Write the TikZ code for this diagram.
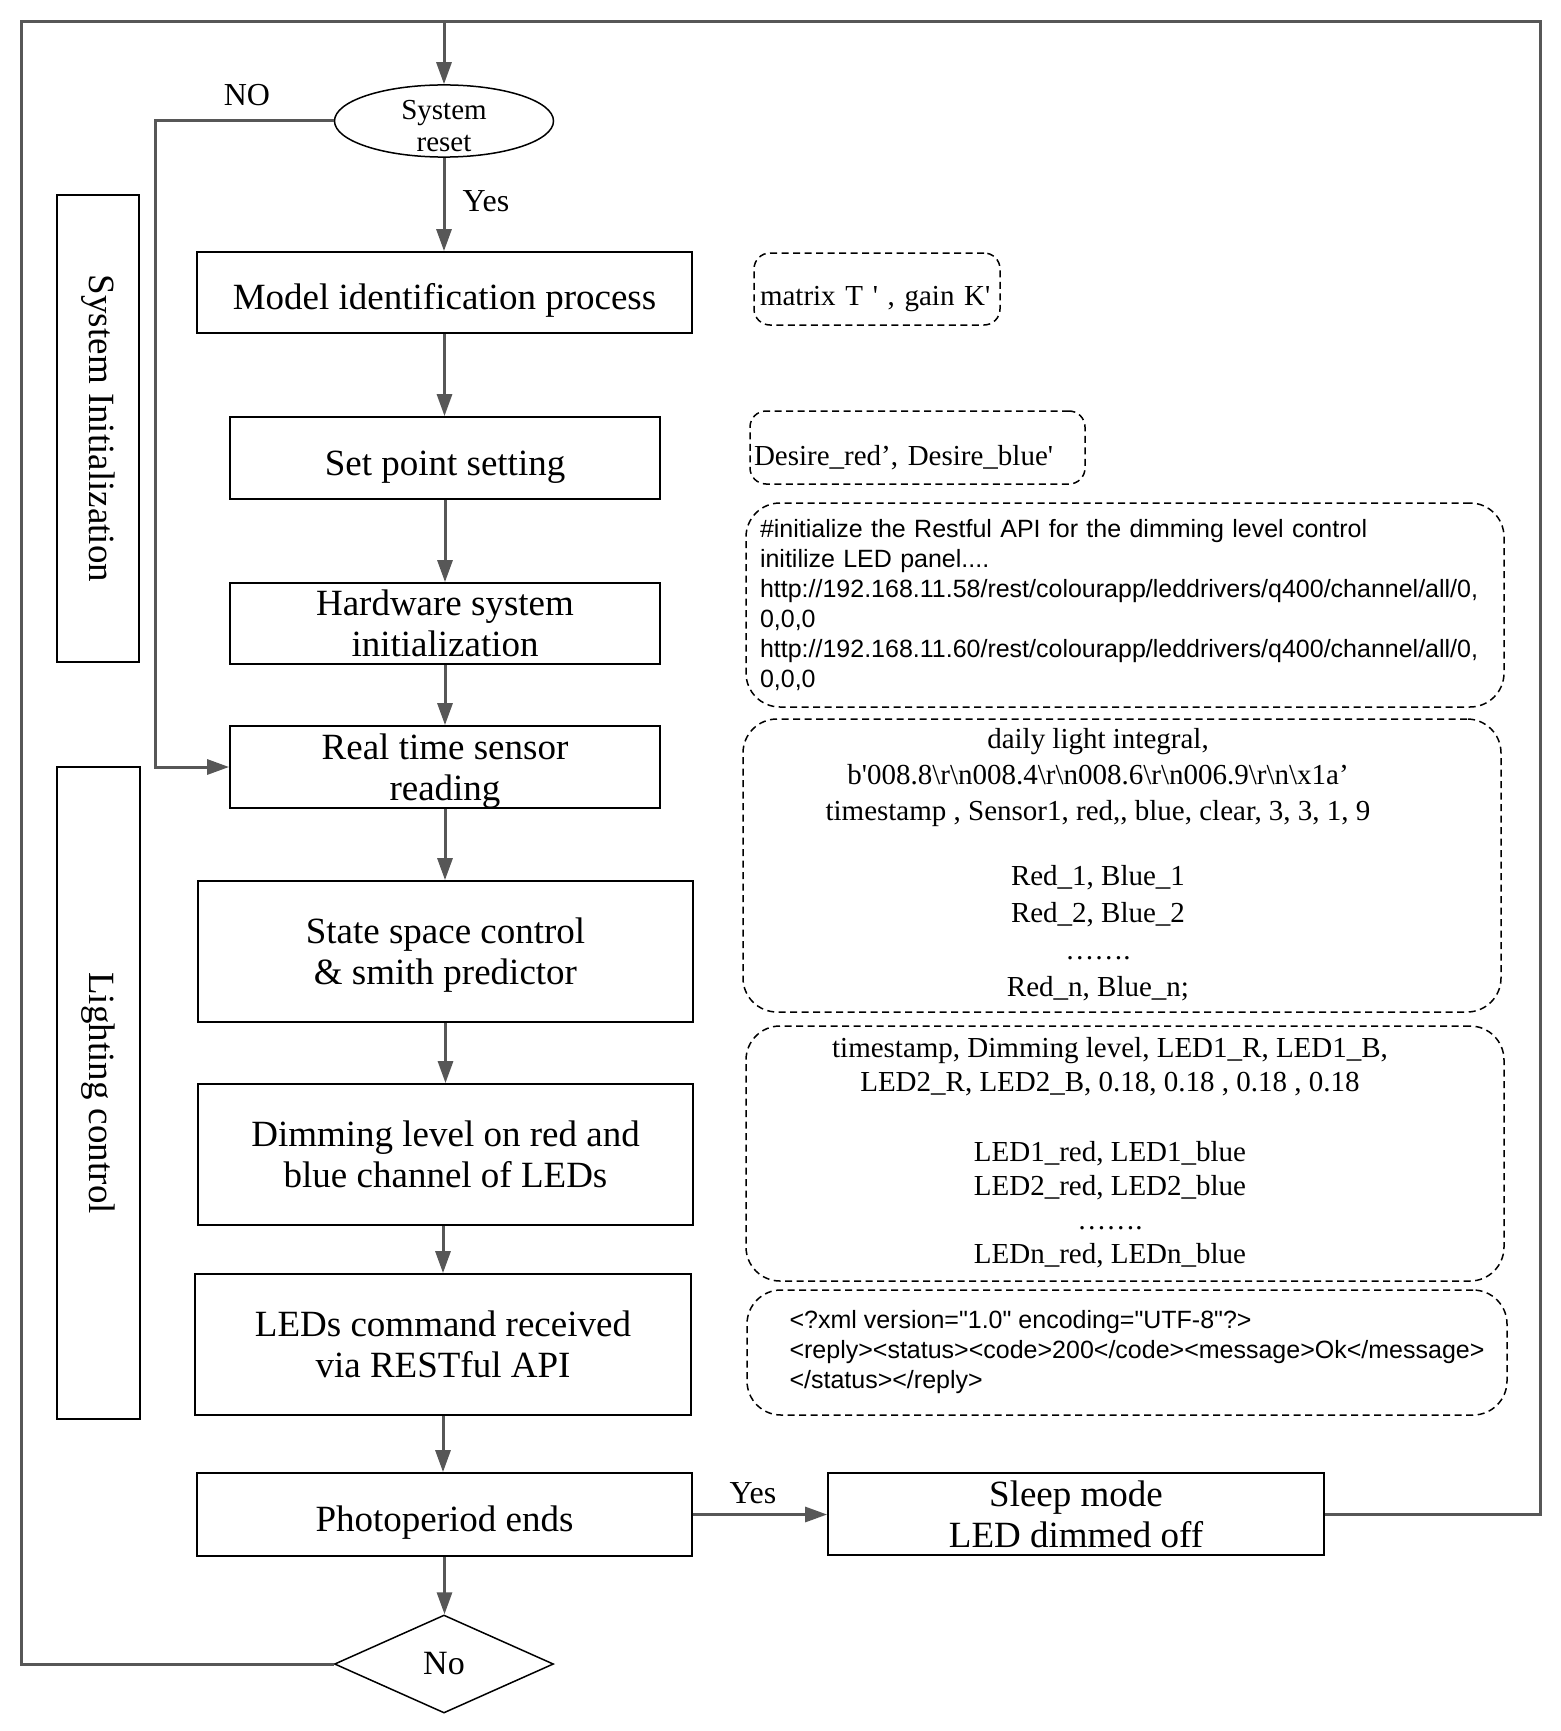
\documentclass[tikz,border=0pt]{standalone}
\usepackage{fontspec}
\newfontfamily\tms{Liberation Serif}
\newfontfamily\arl{Liberation Sans}
\usetikzlibrary{shapes.geometric,arrows.meta}
\definecolor{linegray}{HTML}{575757}
\begin{document}
\begin{tikzpicture}[x=1pt,y=-1pt,font=\tms,
  box/.style={draw=black,line width=1.8pt,rectangle,inner sep=0pt,align=center,text height=42pt,font=\tms\fontsize{37}{41}\selectfont},
  boxtwo/.style={box,text height=72pt,text depth=6pt},
  conn/.style={draw=linegray,line width=3pt},
  arr/.style={conn,-{Triangle[length=22pt,width=15pt]}},
  dbox/.style={draw=black,line width=1.5pt,dash pattern=on 7pt off 4.5pt,rounded corners=34pt,inner sep=0pt},
  dsmall/.style={dbox,rounded corners=16pt,text height=40pt},
  serif/.style={font=\tms\fontsize{29}{36}\selectfont},
  sans/.style={font=\arl\fontsize{25}{30}\selectfont},
  lbl/.style={font=\tms\fontsize{32}{36}\selectfont,inner sep=0pt},
  side/.style={draw=black,line width=1.5pt,rectangle,inner sep=0pt,rotate=-90,font=\tms\fontsize{37}{40}\selectfont}]
\useasboundingbox (0,0) rectangle (1560,1731);
\fill[white] (0,0) rectangle (1560,1731);

% frame corners
\coordinate (TL) at (21,22);
\coordinate (TR) at (1540,22);
\coordinate (NOx) at (155,0);

% main flow
\node[ellipse,draw=black,line width=1.5pt,minimum width=219pt,minimum height=71pt,inner xsep=0pt,inner ysep=-5pt,align=center,text height=61pt,text depth=0pt,font=\tms\fontsize{29}{32}\selectfont] (reset) at (444,121) {System\\reset};
\node[box,minimum width=495pt,minimum height=81pt] (model) at (444.5,292.5) {Model identification process};
\node[box,minimum width=430pt,minimum height=82pt] (setpt) at (445,458) {Set point setting};
\node[boxtwo,minimum width=430pt,minimum height=81pt] (hw) at (445,623.5) {Hardware system\\initialization};
\node[boxtwo,minimum width=430pt,minimum height=82pt] (rts) at (445,767) {Real time sensor\\reading};
\node[boxtwo,minimum width=495pt,minimum height=141pt] (ssc) at (445.5,951.5) {State space control\\\& smith predictor};
\node[boxtwo,minimum width=495pt,minimum height=141pt] (dim) at (445.5,1154.5) {Dimming level on red and\\blue channel of LEDs};
\node[boxtwo,minimum width=496pt,minimum height=141pt] (led) at (443,1344.5) {LEDs command received\\via RESTful API};
\node[box,minimum width=495pt,minimum height=83pt] (photo) at (444.5,1514.5) {Photoperiod ends};
\node[boxtwo,minimum width=496pt,minimum height=82pt] (sleep) at (1076,1514) {Sleep mode\\LED dimmed off};
\node[diamond,draw=black,line width=1.5pt,minimum width=219pt,minimum height=98pt,inner sep=0pt,font=\tms\fontsize{34}{38}\selectfont] (nodia) at (444,1664) {No};

% side labels
\node[side,minimum width=467pt,minimum height=82pt] (sysinit) at (98,428.5) {System Initialization};
\node[side,minimum width=652pt,minimum height=83pt] (light) at (98.5,1093) {Lighting control};

% dashed annotation boxes
\node[dsmall,serif,minimum width=246pt,minimum height=72pt,text width=234pt,align=left] (d1) at (877,289) {matrix T ' , gain K'};
\node[dsmall,serif,minimum width=335pt,minimum height=73pt,text width=327pt,align=left] (d2) at (917.5,447.5) {Desire\_red’, Desire\_blue'};
\node[dbox,sans,minimum width=758pt,minimum height=204pt,text width=730pt,align=left] (d3) at (1125,605) {\#initialize the Restful API for the dimming level control\\initilize LED panel....\\http://192.168.11.58/rest/colourapp/leddrivers/q400/channel/all/0,\\0,0,0\\http://192.168.11.60/rest/colourapp/leddrivers/q400/channel/all/0,\\0,0,0};
\node[dbox,serif,minimum width=758pt,minimum height=293pt] (d4) at (1122,865.5) {\begin{tabular}{@{}c@{}}daily light integral,\\b'008.8\textbackslash r\textbackslash n008.4\textbackslash r\textbackslash n008.6\textbackslash r\textbackslash n006.9\textbackslash r\textbackslash n\textbackslash x1a’\\timestamp , Sensor1, red,, blue, clear, 3, 3, 1, 9\\[29pt]Red\_1, Blue\_1\\[1pt]Red\_2, Blue\_2\\[1pt]…….\\[1pt]Red\_n, Blue\_n;\end{tabular}\hspace*{48pt}};
\node[dbox,serif,minimum width=758pt,minimum height=255pt] (d5) at (1125,1153.5) {\fontsize{29}{34}\selectfont\begin{tabular}{@{}c@{}}timestamp, Dimming level, LED1\_R, LED1\_B,\\LED2\_R, LED2\_B, 0.18, 0.18 , 0.18 , 0.18\\[36pt]LED1\_red, LED1\_blue\\LED2\_red, LED2\_blue\\…….\\LEDn\_red, LEDn\_blue\end{tabular}\hspace*{30pt}};
\node[dbox,sans,minimum width=760pt,minimum height=125pt] (d6) at (1127,1352.5) {\hspace*{20pt}\begin{tabular}{@{}l@{}}<?xml version="1.0" encoding="UTF-8"?>\\<reply><status><code>200</code><message>Ok</message>\\</status></reply>\end{tabular}};

% labels
\node[lbl] (nolbl) at (247,95) {NO};
\node[lbl] (yes1) at (486,201) {Yes};
\node[lbl] (yes2) at (753,1493) {Yes};

% connectors
\draw[arr] (TL -| reset) -- (reset.north);
\draw[arr] (reset.south) -- (reset.south |- model.north);
\draw[arr] (model.south) -- (model.south |- setpt.north);
\draw[arr] (setpt.south) -- (setpt.south |- hw.north);
\draw[arr] (hw.south) -- (hw.south |- rts.north);
\draw[arr] (rts.south) -- (rts.south |- ssc.north);
\draw[arr] (ssc.south) -- (ssc.south |- dim.north);
\draw[arr] (dim.south -| led) -- (led.north);
\draw[arr] (led.south) -- (led.south |- photo.north);
\draw[arr] (photo.south) -- (photo.south |- nodia.north);
\draw[arr] (photo.east) -- (photo.east -| sleep.west);
\draw[arr] (reset.west) -- (reset.west -| NOx) -- (NOx |- rts.west) -- (rts.west);
\draw[conn] (nodia.west) -- (nodia.west -| TL) -- (TL) -- (TR) -- (TR |- sleep.east) -- (sleep.east);
\end{tikzpicture}
\end{document}
